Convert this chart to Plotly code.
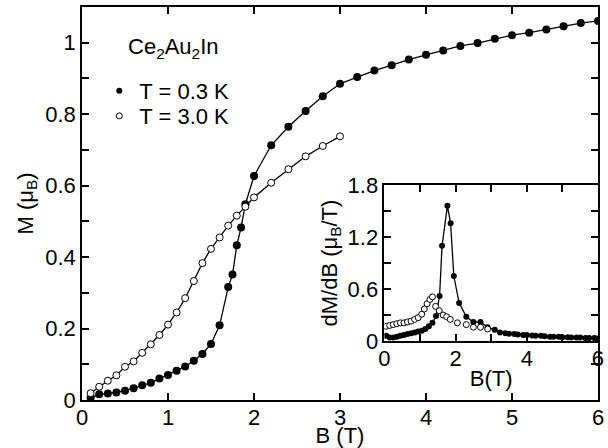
import plotly.graph_objects as go

# ---- main panel: magnetization M(B) ----
B_03 = [0.1, 0.2, 0.3, 0.4, 0.5, 0.6, 0.7, 0.8, 0.9, 1.0, 1.1, 1.2, 1.3, 1.4, 1.5, 1.6,
        1.7, 1.75, 1.8, 1.85, 1.9, 2.0, 2.2, 2.4, 2.6, 2.8, 3.0, 3.2, 3.4, 3.6, 3.8, 4.0,
        4.2, 4.4, 4.6, 4.8, 5.0, 5.2, 5.4, 5.6, 5.8, 6.0]
M_03 = [0.006, 0.016, 0.018, 0.021, 0.026, 0.033, 0.041, 0.048, 0.060, 0.070, 0.082, 0.094,
        0.110, 0.129, 0.157, 0.209, 0.316, 0.351, 0.433, 0.483, 0.548, 0.627, 0.713, 0.765,
        0.809, 0.850, 0.885, 0.904, 0.922, 0.937, 0.953, 0.966, 0.978, 0.991, 0.999, 1.011,
        1.021, 1.028, 1.037, 1.046, 1.055, 1.061]

B_30 = [0.1, 0.2, 0.3, 0.4, 0.5, 0.6, 0.7, 0.8, 0.9, 1.0, 1.1, 1.2, 1.3, 1.4, 1.5, 1.6,
        1.7, 1.8, 1.9, 2.0, 2.2, 2.4, 2.6, 2.8, 3.0]
M_30 = [0.019, 0.037, 0.054, 0.069, 0.093, 0.108, 0.132, 0.156, 0.182, 0.211, 0.245, 0.285,
        0.333, 0.383, 0.423, 0.455, 0.488, 0.516, 0.541, 0.567, 0.608, 0.646, 0.682, 0.711,
        0.738]

# ---- inset: dM/dB ----
Bd_03 = [0.05, 0.15, 0.25, 0.35, 0.45, 0.55, 0.65, 0.75, 0.85, 0.95, 1.05, 1.15, 1.25, 1.35,
         1.45, 1.55, 1.62, 1.77, 1.86, 1.95, 2.1, 2.3, 2.5, 2.7, 2.9, 3.1, 3.25, 3.4, 3.5,
         3.65, 3.75, 3.9, 4.0, 4.15, 4.25, 4.4, 4.5, 4.65, 4.75, 4.9, 5.0, 5.15, 5.25, 5.4,
         5.5, 5.65, 5.75, 5.9, 6.0]
dM_03 = [0.06, 0.04, 0.04, 0.05, 0.06, 0.07, 0.08, 0.09, 0.10, 0.11, 0.12, 0.14, 0.17, 0.21,
         0.29, 0.52, 1.10, 1.56, 1.36, 0.75, 0.44, 0.28, 0.22, 0.22, 0.16, 0.13, 0.10, 0.09,
         0.085, 0.08, 0.075, 0.07, 0.07, 0.065, 0.06, 0.06, 0.055, 0.05, 0.05, 0.05, 0.045,
         0.045, 0.04, 0.04, 0.04, 0.035, 0.035, 0.035, 0.03]

Bd_30 = [0.05, 0.15, 0.25, 0.35, 0.45, 0.55, 0.65, 0.75, 0.85, 0.95, 1.05, 1.12, 1.2, 1.28,
         1.35, 1.44, 1.54, 1.65, 1.75, 1.85, 2.05, 2.3, 2.5, 2.7, 2.9]
dM_30 = [0.17, 0.18, 0.19, 0.20, 0.21, 0.21, 0.22, 0.23, 0.25, 0.27, 0.31, 0.37, 0.43, 0.48,
         0.51, 0.40, 0.35, 0.30, 0.28, 0.25, 0.21, 0.19, 0.16, 0.16, 0.14]

FONT = "Liberation Sans, Arial, sans-serif"
FS = 22
BLACK = "black"

fig = go.Figure()

fig.add_trace(go.Scatter(x=B_03, y=M_03, mode="lines+markers",
                         line=dict(color=BLACK, width=1.3),
                         marker=dict(color=BLACK, size=8), showlegend=False))
fig.add_trace(go.Scatter(x=B_30, y=M_30, mode="lines+markers",
                         line=dict(color=BLACK, width=1.3),
                         marker=dict(color="white", size=7, line=dict(color=BLACK, width=1)),
                         showlegend=False))

fig.add_trace(go.Scatter(x=Bd_03, y=dM_03, mode="lines+markers", xaxis="x2", yaxis="y2",
                         line=dict(color=BLACK, width=1.3),
                         marker=dict(color=BLACK, size=6), showlegend=False))
fig.add_trace(go.Scatter(x=Bd_30, y=dM_30, mode="markers", xaxis="x2", yaxis="y2",
                         marker=dict(color="white", size=6, line=dict(color=BLACK, width=1)),
                         showlegend=False))

# legend entries (one legend box per entry for exact line spacing)
fig.add_trace(go.Scatter(x=[None], y=[None], mode="markers", name="T = 0.3 K",
                         marker=dict(color=BLACK, size=6), legend="legend"))
fig.add_trace(go.Scatter(x=[None], y=[None], mode="markers", name="T = 3.0 K",
                         marker=dict(color="white", size=6, line=dict(color=BLACK, width=1)),
                         legend="legend2"))

axis_common = dict(showline=True, linecolor=BLACK, linewidth=1.6, mirror="ticks",
                   ticks="inside", ticklen=7, tickwidth=1.5, tickcolor=BLACK,
                   showgrid=False, zeroline=False, automargin=False,
                   tickfont=dict(family=FONT, size=FS, color=BLACK))
minor_common = dict(ticks="inside", ticklen=7, tickwidth=1.5, tickcolor=BLACK)
legend_common = dict(xanchor="left", yanchor="top", bgcolor="rgba(0,0,0,0)",
                     font=dict(family=FONT, size=FS, color=BLACK), itemwidth=30)

fig.update_layout(
    template="none",
    width=608, height=448,
    margin=dict(l=82, r=10, t=7, b=48, autoexpand=False),
    paper_bgcolor="white", plot_bgcolor="white",
    font=dict(family=FONT, size=FS, color=BLACK),
    xaxis=dict(range=[0, 6], dtick=1, domain=[0, 1], ticklabelstandoff=-3,
               title=dict(text="B (T)", font=dict(size=FS), standoff=2), **axis_common),
    yaxis=dict(range=[0, 1.1], dtick=0.2, minor=dict(dtick=0.1, **minor_common),
               title=dict(text="M (μ<sub>B</sub>)", font=dict(size=FS), standoff=6),
               **axis_common),
    xaxis2=dict(range=[0, 6], dtick=2, domain=[0.586, 1.0], anchor="y2", ticklabelstandoff=-3,
                minor=dict(dtick=1, **minor_common),
                title=dict(text="B(T)", font=dict(size=FS), standoff=0), **axis_common),
    yaxis2=dict(range=[0, 1.8], dtick=0.6, domain=[0.150, 0.547], anchor="x2",
                minor=dict(dtick=0.3, **minor_common),
                title=dict(text="dM/dB (μ<sub>B</sub>/T)", font=dict(size=FS), standoff=4),
                **axis_common),
    legend=dict(x=0.0335, y=0.84, **legend_common),
    legend2=dict(x=0.0335, y=0.776, **legend_common),
    annotations=[dict(text="Ce<sub>2</sub>Au<sub>2</sub>In", xref="paper", yref="paper",
                      x=0.085, y=0.896, xanchor="left", yanchor="middle", showarrow=False,
                      font=dict(family=FONT, size=FS, color=BLACK))],
)

fig.write_html("out.html", config={"displayModeBar": False},
               post_script="document.body.style.margin='0px';"
                           "document.body.style.overflow='hidden';")
